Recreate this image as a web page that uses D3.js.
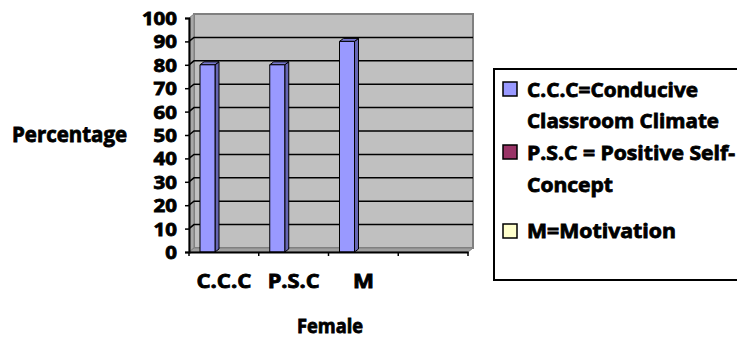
<!DOCTYPE html>
<html><head><meta charset="utf-8">
<script src="https://cdn.jsdelivr.net/npm/d3@7"></script>
<style>
html,body{margin:0;padding:0;background:#fff;}
text{font-family:"Open Sans",Roboto,sans-serif;font-weight:bold;fill:#000;stroke:#000;stroke-width:0.8px;}
</style></head>
<body><svg id="c" width="737" height="338"></svg>
<script>
const categories = ["C.C.C", "P.S.C", "M", ""];
const values = [80, 80, 90];
const yTicks = [0, 10, 20, 30, 40, 50, 60, 70, 80, 90, 100];
const legendNames = [["C.C.C=Conducive", "Classroom Climate"], ["P.S.C = Positive Self-", "Concept"], ["M=Motivation"]];
const legendColors = ["#9999FF", "#993366", "#FFFFCC"];
const yTitle = "Percentage";
const xTitle = "Female";

const svg = d3.select("#c");
const dx = 5, dy = 4;
const x = d3.scaleBand().domain(categories).range([189, 468]);
const y = d3.scaleLinear().domain([0, 100]).range([252, 18]);

function stretch(sel, w) {
  sel.attr("textLength", w).attr("lengthAdjust", "spacingAndGlyphs");
}

// back wall
svg.append("rect").attr("x", x.range()[0] + dx).attr("y", y(100) - dy)
  .attr("width", x.range()[1] - x.range()[0]).attr("height", y(0) - y(100))
  .attr("fill", "#C0C0C0").attr("stroke", "#808080").attr("stroke-width", 2);
// side wall
svg.append("path").attr("d", `M${x.range()[0]},${y(0)}L${x.range()[0]},${y(100)}L${x.range()[0]+dx},${y(100)-dy}L${x.range()[0]+dx},${y(0)-dy}Z`)
  .attr("fill", "#A8A8A8").attr("stroke", "#808080").attr("stroke-width", 1);
// floor
svg.append("path").attr("d", `M${x.range()[0]},${y(0)}L${x.range()[1]},${y(0)}L${x.range()[1]+dx},${y(0)-dy}L${x.range()[0]+dx},${y(0)-dy}Z`)
  .attr("fill", "#A0A0A0").attr("stroke", "#808080").attr("stroke-width", 1);

// gridlines
yTicks.filter(t => t > 0 && t < 100).forEach(t => {
  svg.append("path").attr("d", `M${x.range()[0]},${y(t)}L${x.range()[0]+dx},${y(t)-dy}L${x.range()[1]+dx},${y(t)-dy}`)
    .attr("fill", "none").attr("stroke", "#000").attr("stroke-width", 1.5);
});

// bars
const bw = 15, bdx = 4, bdy = 3, off = 11;
values.forEach((v, i) => {
  const x0 = x(categories[i]) + off, x1 = x0 + bw, yt = y(v), yb = y(0);
  const g = svg.append("g").attr("stroke", "#000").attr("stroke-width", 1).attr("stroke-linejoin", "round");
  g.append("path").attr("d", `M${x1},${yb}L${x1},${yt}L${x1+bdx},${yt-bdy}L${x1+bdx},${yb-bdy}Z`).attr("fill", "#6666B3");
  g.append("path").attr("d", `M${x0},${yt}L${x1},${yt}L${x1+bdx},${yt-bdy}L${x0+bdx},${yt-bdy}Z`).attr("fill", "#7777CC");
  g.append("rect").attr("x", x0).attr("y", yt).attr("width", bw).attr("height", yb - yt).attr("fill", legendColors[0]);
});

// y axis
const ya = svg.append("g").attr("transform", `translate(${x.range()[0]},0)`)
  .call(d3.axisLeft(y).tickValues(yTicks).tickSize(4).tickPadding(8));
ya.select(".domain").attr("stroke", "#000").attr("stroke-width", 2);
ya.selectAll(".tick line").attr("stroke", "#000").attr("stroke-width", 1.5);
ya.selectAll(".tick text").attr("font-size", 18).attr("font-family", null).attr("fill", "#000")
  .attr("dy", "0.36em");
ya.selectAll(".tick text").each(function() { const s = d3.select(this); stretch(s, s.text().length * 11.7); });

// x axis
const xa = svg.append("g").attr("transform", `translate(0,${y(0)})`)
  .call(d3.axisBottom(x).tickSize(0).tickFormat(""));
xa.select(".domain").attr("stroke", "#000").attr("stroke-width", 2);
[...categories.map(c => x(c)), x.range()[1]].forEach(px => {
  svg.append("line").attr("x1", px).attr("x2", px).attr("y1", y(0)).attr("y2", y(0) + 4).attr("stroke", "#000").attr("stroke-width", 1.5);
});
const catW = {"C.C.C": 55, "P.S.C": 52, "M": 21};
categories.forEach(c => {
  if (!c) return;
  const t = svg.append("text").attr("x", x(c) + x.bandwidth() / 2).attr("y", 288).attr("text-anchor", "middle").attr("font-size", 19).text(c);
  stretch(t, catW[c]);
});

// titles
const yt = svg.append("text").attr("x", 69.5).attr("y", 142).attr("text-anchor", "middle").attr("font-size", 21).text(yTitle);
stretch(yt, 115);
const xt = svg.append("text").attr("x", 330).attr("y", 333).attr("text-anchor", "middle").attr("font-size", 20).text(xTitle);
stretch(xt, 66);

// legend
svg.append("rect").attr("x", 494).attr("y", 69).attr("width", 260).attr("height", 211).attr("fill", "#fff").attr("stroke", "#000").attr("stroke-width", 2);
const mY = [82, 145, 224];
const lineY = [[97, 128], [160, 192], [238]];
const lw = [[171, 192], [208, 86], [149]];
legendNames.forEach((lines, i) => {
  svg.append("rect").attr("x", 503).attr("y", mY[i]).attr("width", 14).attr("height", 14).attr("fill", legendColors[i]).attr("stroke", "#000").attr("stroke-width", 1.5);
  lines.forEach((ln, j) => {
    const t = svg.append("text").attr("x", 527).attr("y", lineY[i][j]).attr("font-size", 20).text(ln);
    stretch(t, lw[i][j]);
  });
});
</script></body></html>
